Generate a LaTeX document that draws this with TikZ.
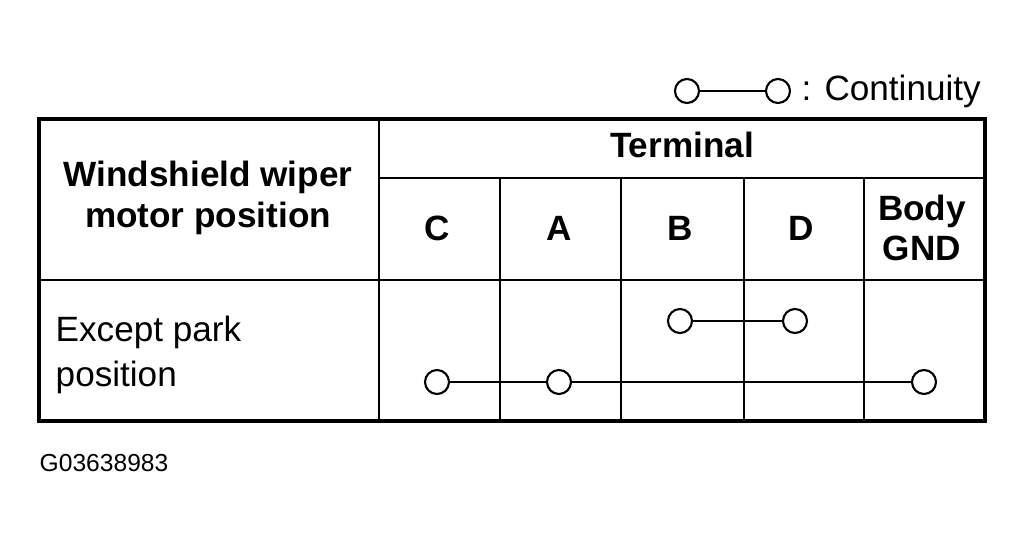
\documentclass[tikz,border=0pt]{standalone}
\usepackage{fontspec}
\setmainfont{Liberation Sans}
\tikzset{
every picture/.style={
line width=1pt
}}
\begin{document}
\begin{tikzpicture}[x=0.02cm, y=-0.02cm,
term/.style = {circle, draw=black, line width=1.2pt, fill=white, minimum size=0.48cm, inner sep=0pt},
head/.style = {font=\fontsize{20}{23}\selectfont\bfseries, align=center},
txt/.style = {font=\fontsize{20}{26}\selectfont, align=left, anchor=west}]
\useasboundingbox (0,0) rectangle (1025,545);
% table
\draw[line width=2pt] (39,119) rectangle (985,421);
\draw[line width=1.2pt] (379,178) -- (985,178);
\draw[line width=1.2pt] (39,280) -- (985,280);
\draw[line width=1.2pt] (379,119) -- (379,421);
\foreach \xx in {500,621,744,864}
  \draw[line width=1.2pt] (\xx,178) -- (\xx,421);
% headings
\node[head] (terminal) at (682,145) {Terminal};
\node[head] (position) at (208,198) {Windshield wiper\\motor position};
\node[head] (c) at (437,228) {C};
\node[head] (a) at (559,228) {A};
\node[head] (b) at (680,228) {B};
\node[head] (d) at (801,228) {D};
\node[head] (gnd) at (922,228) {Body\\GND};
\node[txt] (except) at (49,355) {Except park\\position};
% continuity
\node[term] (b1) at (680,321) {};
\node[term] (d1) at (795,321) {};
\node[term] (c1) at (437,382) {};
\node[term] (a1) at (559,382) {};
\node[term] (g1) at (924,382) {};
\draw (b1) -- (d1);
\draw (c1) -- (a1);
\draw (a1) -- (g1);
% legend
\node[term] (l1) at (687,91) {};
\node[term] (l2) at (778,91) {};
\draw (l1) -- (l2);
\node[txt] (cont) at (795,91) {: Continuity};
\node[font=\fontsize{14}{16}\selectfont, anchor=west] (code) at (33,463) {G03638983};
\end{tikzpicture}
\end{document}
